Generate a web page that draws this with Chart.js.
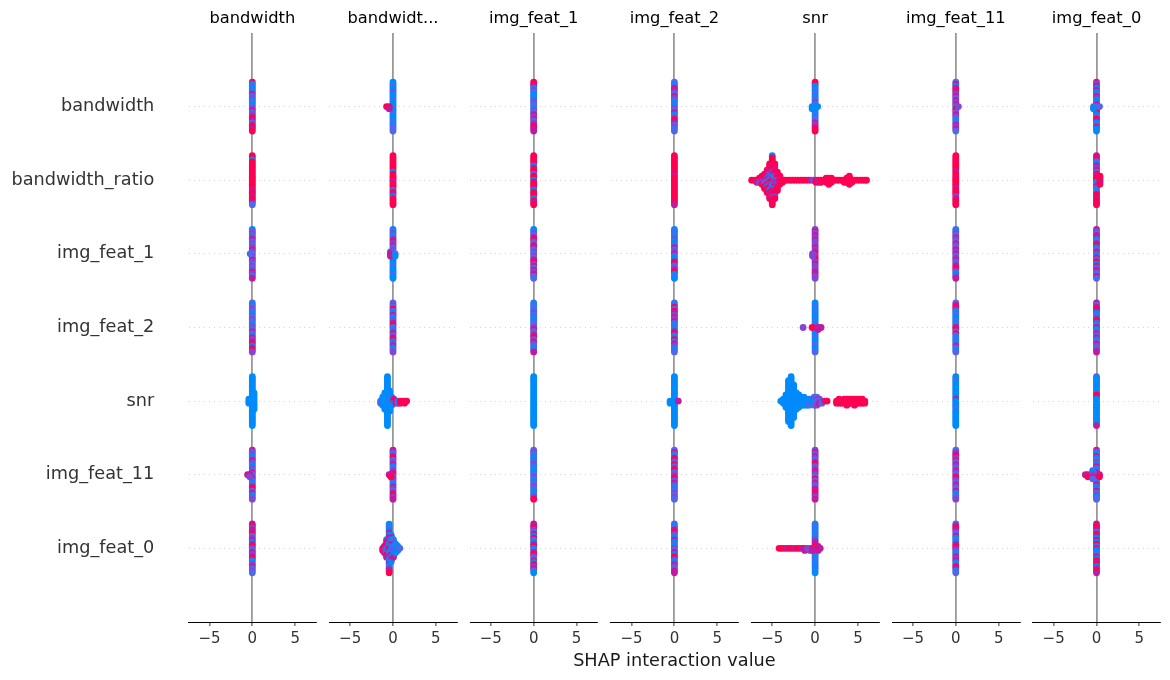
<!DOCTYPE html>
<html lang="en">
<head>
<meta charset="UTF-8">
<title>SHAP interaction summary</title>
<script src="https://cdn.jsdelivr.net/npm/chart.js"></script>
<style>
  body { margin: 0; background: #fff; }
  #plot { position: relative; width: 1170px; height: 680px; }
  .panel { position: absolute; top: 0; height: 680px; }
</style>
</head>
<body>
<div id="plot"></div>
<script>
// rows (top to bottom) and panel titles
const features = ['bandwidth', 'bandwidth_ratio', 'img_feat_1', 'img_feat_2', 'snr', 'img_feat_11', 'img_feat_0'];
const columnTitles = ['bandwidth', 'bandwidt...', 'img_feat_1', 'img_feat_2', 'snr', 'img_feat_11', 'img_feat_0'];
const xTicks = [-5, 0, 5];
const xLimit = 7.42;

// each row: list of [interaction value, feature value colours of the points in that bin, top to bottom]
// b = low (blue), v, p, m, r = high (red); spaces are only for counting
const colBandwidth = [
  [[0, 'rbvbv bmvpb vbvpm vpmrm vmrmr']],
  [[0, 'rrbrr rrrrr rrrrr rrmrr mrrmv']],
  [[0, 'bvpvp mvpvp mpvpv mpvpv pmpvm'], [-0.25, 'v']],
  [[0, 'vbvpv vbvpv vbpvm vbmpm rbmrp']],
  [[0, 'bbbbb bbbbb bbbbb bbbbb bbbbb'], [-0.4, 'bbb'], [0.2, 'bbbbbbbbb']],
  [[0, 'mvpbv mpvbp vmvpm vbvmr vmvbp'], [-0.55, 'm'], [-0.3, 'mp']],
  [[0, 'mrpmm rvpmb mrpvm pmrvb pmvpv']]
];

const colBandwidthRatio = [
  [[0, 'bbvbb pbbbv bbbvb bvbbb vbvvv'], [-0.75, 'r'], [-0.45, 'rm']],
  [[0, 'rrrrr rrrbr rrrmr rrvrm brrrr']],
  [[0, 'bvpbv mmpmv pbbvb mbbvb bbvbb'], [-0.3, 'pmm'], [0.25, 'vb']],
  [[0, 'vpvrv bmvbp mrvbp mvmrb pmbvp']],
  [[-1.45, 'bv'], [-1.2, 'bbbbb'], [-0.95, 'bbbbbbbbb'],
   [-0.65, 'bbbbb bbbbb bbbbb bbbbb bbbbb'], [-0.4, 'bbbbb bbbbb b'],
   [-0.15, 'bvbvb'], [0.1, 'mrb'], [0.35, 'rm'], [0.6, 'bv'], [0.85, 'rr'],
   [1.1, 'r'], [1.35, 'rr'], [1.6, 'r']],
  [[0, 'mpvmr vpmbv pmrvm pvbmp vmrpm'], [-0.45, 'm'], [-0.25, 'mr']],
  [[-1.2, 'mr'], [-1.0, 'rmpm'], [-0.75, 'bmrmp bvrm'],
   [-0.45, 'bbvbm brpmb vrmbp mbvmb pmr'], [-0.2, 'bmbvm bpbvr bmb'],
   [0.05, 'bvmbv pbbm'], [0.3, 'bvbpb'], [0.55, 'bvb'], [0.8, 'v']]
];

const colImgFeat1 = [
  [[0, 'rrmbp vbbvb pvvbp vmpmv pmrmm']],
  [[0, 'rrrrr bmrrv rrbrr rmbrr rbrmr']],
  [[0, 'bbpvm rpvrm vpvpv mrpmv mpmvv']],
  [[0, 'vbvvb pvbvb vvpmv pmrvm pvbvm']],
  [[0, 'bbbbb bbbbb bbbbb bbbbb bbbbb']],
  [[0, 'vpvbv bvpbv bbvpv bvvpv bvbpr']],
  [[0, 'mmrpv mbrvb mrbvm rpvmb rpmvb']]
];

const colImgFeat2 = [
  [[0, 'vbvmm pvmpv bvbpv mbvmr mvpvv']],
  [[0, 'rrrrr rrrrr mrrrr rrrrr rrrrm']],
  [[0, 'bvbvb pbbvm vpmvb brmvp mrbvb']],
  [[0, 'vbrvr mpmpm vbvbm rvbrv mpvbv']],
  [[0, 'bbbbb bbbbb bbbbb bbbbb bbbbb'], [-0.5, 'bb'], [0.45, 'm']],
  [[0, 'vmvbr mvrvm rvpmr vmpvb vpvpv']],
  [[0, 'vbvmr pvbmb vbpvm brmvb mpvmm']]
];

const colSnr = [
  [[0, 'rrbbv bvbvb pvbbv bvbvv mpmrr'], [-0.35, 'bb'], [0.3, 'b']],
  [[-7.4, 'r'], [-7.1, 'r'], [-6.8, 'rm'], [-6.5, 'rrp'], [-6.2, 'rrmpr'],
   [-5.9, 'rrrmp vrr'], [-5.6, 'rrmrp mvrbm rr'], [-5.3, 'rrrmr pbmvr pmrbr mrr'],
   [-5.0, 'brrrr mrrpm bvrmp bvrmr prmrr'], [-4.7, 'rrrmr mpvbm prbmr rpr'],
   [-4.4, 'rrmrv mpmrr'], [-4.1, 'rrmrr'], [-3.8, 'rr'], [-3.5, 'r'], [-3.2, 'r'],
   [-2.9, 'r'], [-2.6, 'r'], [-2.3, 'r'], [-2.0, 'r'], [-1.7, 'r'], [-1.4, 'r'],
   [-1.1, 'r'], [-0.8, 'r'], [-0.5, 'm'], [-0.2, 'p'], [0.1, 'mr'], [0.4, 'rm'],
   [0.7, 'rr'], [1.0, 'r'], [1.3, 'rrr'], [1.6, 'rrrr'], [1.9, 'rrr'], [2.2, 'r'],
   [2.5, 'r'], [2.8, 'r'], [3.1, 'r'], [3.4, 'rr'], [3.7, 'rrr'], [4.0, 'rrrrr'],
   [4.3, 'rr'], [4.6, 'r'], [4.9, 'r'], [5.2, 'r'], [5.5, 'r'], [5.8, 'r'], [6.0, 'r']],
  [[0, 'pmpmp mpppm pmrpm rpmpp pmmpp'], [-0.3, 'pp']],
  [[0, 'bbvbb vbbbv bbpbv bbvbb vvbbv'], [-1.4, 'p'], [-0.35, 'r'], [0.35, 'mm'], [0.7, 'm']],
  [[-4.0, 'b'], [-3.7, 'bbb'], [-3.4, 'bbbbbbb'], [-3.1, 'bbbbb bbbbb bbbbb bbbbb b'],
   [-2.8, 'bbbbb bbbbb bbbbb bbbbb bbbbb'], [-2.5, 'bbbbb bbbbb bbbbb bb'],
   [-2.2, 'bbbbbbbbb'], [-1.9, 'bbbbbbb'], [-1.6, 'bbbbb'], [-1.3, 'bbbbb'],
   [-1.0, 'bbbb'], [-0.7, 'bbbv'], [-0.4, 'bvb'], [-0.1, 'vpvbv'], [0.2, 'vpbvp'],
   [0.5, 'pvm'], [0.8, 'pv'], [1.1, 'm'], [1.4, 'r'], [2.5, 'rr'], [2.8, 'rrr'],
   [3.1, 'rr'], [3.4, 'rrr'], [3.7, 'rrrr'], [4.0, 'rrr'], [4.3, 'rrr'], [4.6, 'rrrr'],
   [4.9, 'rrr'], [5.2, 'rrr'], [5.5, 'rrr'], [5.8, 'rr']],
  [[0, 'pmvmp vmrvp mmpvr vmpvm mrmpm']],
  [[0, 'vbvbv bvbpm mrmbv bvbvb vbbvb'], [-4.2, 'r'], [-3.9, 'r'], [-3.6, 'r'],
   [-3.3, 'm'], [-3.0, 'r'], [-2.7, 'r'], [-2.4, 'm'], [-2.1, 'r'], [-1.8, 'r'],
   [-1.5, 'm'], [-1.2, 'rm'], [-0.9, 'p'], [-0.6, 'pp'], [-0.3, 'mm'], [0.35, 'mrm'], [0.6, 'm']]
];

const colImgFeat11 = [
  [[0, 'vmbmr mpmvm pmbmr vmpvb vmpmv'], [0.3, 'p']],
  [[0, 'rrrrr rrrmr rrrrr rmrrr pmrrr']],
  [[0, 'vbpvm pvmpv mpmvp mvpmr mvbpm']],
  [[0, 'vmrmv bvbbv bvmrv rvbvb vmvbv']],
  [[0, 'bbvbb bbbbb bmbbb bvbbb bbbbb']],
  [[0, 'vpmrp mvmpv mpvrm pvmpv mvbvp']],
  [[0, 'vmrmp vmbvb mrmpb vmpmb vrmbv']]
];

const colImgFeat0 = [
  [[0, 'mpmbm bvmpb bmvrm rbvrm bvmbb'], [-0.35, 'vb'], [0.35, 'v']],
  [[0, 'mrmvb mpmvr mrrbv mvbvr rmrrr'], [0.4, 'rrrmr']],
  [[0, 'mpvmm bvmrb vmpbm vrbmv mpvmv']],
  [[0, 'mvmrm bvbmr bvmbv mvmbv mpvpm']],
  [[0, 'vbbbb bbbbr rbbbb bbbbb bbbbm']],
  [[0, 'mvbmb vpbmv bmbvp vbmvb mvpbv'], [-1.3, 'm'], [-1.0, 'mr'], [-0.45, 'vbpmv'], [0.35, 'mr']],
  [[0, 'mrrmv rmbmb rvmbb vmbrm rbmrm']]
];

const columns = [colBandwidth, colBandwidthRatio, colImgFeat1, colImgFeat2, colSnr, colImgFeat11, colImgFeat0];

const palette = {
  b: 'rgb(0,139,251)',
  v: 'rgb(82,104,236)',
  p: 'rgb(132,70,210)',
  m: 'rgb(192,26,158)',
  r: 'rgb(255,0,82)'
};

// beeswarm stacking as in shap: points of a bin alternate around the row,
// the tallest bin of a cell fills 0.9 * 0.4 of the row height
function swarm(rowIndex, bins) {
  const cells = bins.map(([x, s]) => [x, s.replace(/ /g, '')]);
  const maxN = Math.max(...cells.map(c => c[1].length));
  const step = 0.36 / (Math.ceil((maxN - 1) / 2) + 1);
  const pts = [];
  cells.forEach(([x, s]) => {
    const slots = [];
    for (let k = 0; k < s.length; k++) slots.push(Math.ceil(k / 2) * (k % 2 ? 1 : -1));
    slots.sort((a, b) => a - b);
    s.split('').forEach((c, k) => pts.push({ x: x, y: rowIndex + slots[k] * step, c: palette[c] }));
  });
  return pts;
}

Chart.defaults.font.family = '"DejaVu Sans", sans-serif';
Chart.defaults.animation = false;

const xLabelPlugin = {
  id: 'xLabel',
  afterDraw(chart) {
    const ctx = chart.ctx, area = chart.chartArea;
    ctx.save();
    ctx.font = '17.7px "DejaVu Sans"';
    ctx.fillStyle = '#1a1a1a';
    ctx.textAlign = 'center';
    ctx.textBaseline = 'alphabetic';
    ctx.fillText('SHAP interaction value', (area.left + area.right) / 2, 665.7);
    ctx.restore();
  }
};

const plot = document.getElementById('plot');
const firstLeft = 188.7, pitch = 140.7, halfWidth = 63.6, sidePad = 60;

columns.forEach((col, i) => {
  const first = i === 0;
  const areaLeft = firstLeft + pitch * i;
  const boxLeft = first ? 0 : Math.floor(areaLeft - sidePad);
  const boxWidth = Math.ceil(areaLeft + 2 * halfWidth + sidePad) - boxLeft;
  const yAxisWidth = first ? areaLeft : 0;
  const padLeft = first ? 0 : areaLeft - boxLeft;
  const padRight = boxWidth - padLeft - yAxisWidth - 2 * halfWidth;

  const box = document.createElement('div');
  box.className = 'panel';
  box.style.left = boxLeft + 'px';
  box.style.width = boxWidth + 'px';
  const canvas = document.createElement('canvas');
  box.appendChild(canvas);
  plot.appendChild(box);

  let points = [];
  col.forEach((bins, r) => { points = points.concat(swarm(r, bins)); });

  new Chart(canvas, {
    type: 'scatter',
    data: {
      datasets: [{
        data: points.map(p => ({ x: p.x, y: p.y })),
        pointBackgroundColor: points.map(p => p.c),
        pointBorderWidth: 0,
        pointRadius: 3.4,
        clip: false
      }]
    },
    options: {
      responsive: true,
      maintainAspectRatio: false,
      layout: { padding: { left: padLeft, right: padRight, top: 0, bottom: 0 } },
      plugins: {
        legend: { display: false },
        tooltip: { enabled: false },
        title: {
          display: true,
          text: columnTitles[i],
          fullSize: false,
          color: '#000',
          font: { size: 16.3, weight: 'normal' },
          padding: { top: 8.6, bottom: 4.8 }
        }
      },
      scales: {
        x: {
          type: 'linear',
          min: -xLimit,
          max: xLimit,
          afterBuildTicks: s => { s.ticks = xTicks.map(v => ({ value: v })); },
          afterFit: s => { s.height = 58; s.paddingLeft = 0; s.paddingRight = 0; },
          ticks: {
            callback: v => String(v).replace('-', '\u2212'),
            color: '#333333',
            font: { size: 15 },
            padding: 4,
            maxRotation: 0
          },
          grid: {
            color: c => (c.tick && c.tick.value === 0) ? '#999999' : 'rgba(0,0,0,0)',
            lineWidth: 1.8,
            tickLength: 4,
            tickColor: '#333333',
            tickWidth: 1
          },
          border: { display: true, color: '#000', width: 1 }
        },
        y: {
          type: 'linear',
          min: -1,
          max: 7,
          reverse: true,
          afterBuildTicks: s => { s.ticks = features.map((f, k) => ({ value: k })); },
          afterFit: s => { s.width = yAxisWidth; s.paddingTop = 0; s.paddingBottom = 0; },
          ticks: {
            display: first,
            callback: v => features[v],
            color: '#333333',
            font: { size: 17.7 },
            padding: 34.4
          },
          grid: { color: '#d4d4d4', lineWidth: 1, drawTicks: false },
          border: { display: false, dash: [1, 4] }
        }
      }
    },
    plugins: i === 3 ? [xLabelPlugin] : []
  });
});
</script>
</body>
</html>
